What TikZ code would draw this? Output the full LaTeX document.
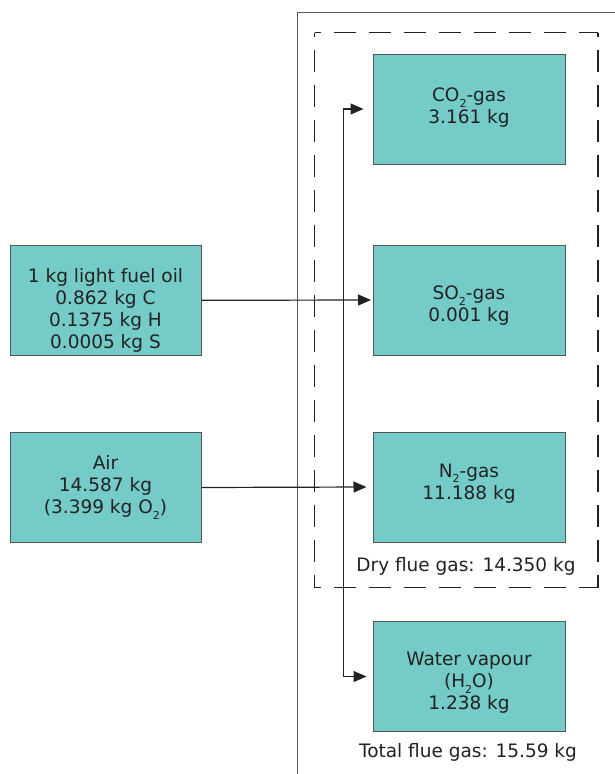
\documentclass[tikz,border=0pt]{standalone}
\usepackage{fontspec}
\setmainfont{DejaVu Sans}
\usetikzlibrary{arrows.meta}
\definecolor{boxfill}{HTML}{74CBC7}
\definecolor{boxline}{HTML}{555555}
\definecolor{txt}{HTML}{222222}
\newcommand{\chsub}[1]{\raisebox{-0.55ex}{\fontsize{11}{11}\selectfont #1}}
\begin{document}
\begin{tikzpicture}[x=1pt,y=-1pt,
  gasbox/.style={draw=boxline, line width=1pt, fill=boxfill,
    minimum width=192pt, minimum height=110pt, inner sep=0pt},
  boxtext/.style={text=txt, align=center, inner sep=0pt,
    font=\fontsize{18.5}{22}\selectfont},
  flow/.style={draw=txt, line width=1.2pt, -{Triangle[length=13pt,width=11pt]}},
  dashside/.style={txt, line width=1.1pt, dash pattern=on 22pt off 13pt},
  label/.style={text=txt, font=\fontsize{18.5}{22}\selectfont, inner sep=0pt}]
\useasboundingbox (0,0) rectangle (614,774);
% outer enclosure
\draw[boxline, line width=1.1pt] (297.5,780) -- (297.5,12.5) -- (620,12.5);
% dashed enclosure (dry flue gas)
\draw[dashside, dash phase=16pt] (314.5,32.5) -- (598,32.5);
\draw[dashside, dash phase=18pt] (314.5,32.5) -- (314.5,587.5);
\draw[dashside, dash phase=16pt] (314.5,587.5) -- (598,587.5);
\draw[dashside, dash phase=18pt] (598,32.5) -- (598,587.5);
% boxes
\node[gasbox] (co2) at (469,109) {};
\node[gasbox] (so2) at (469,300) {};
\node[gasbox] (n2) at (469,487) {};
\node[gasbox] (h2o) at (469,676.5) {};
\node[gasbox, minimum width=191pt] (fuel) at (105.5,300.3) {};
\node[gasbox, minimum width=191pt] (air) at (105.5,487.5) {};
% box texts
\node[boxtext] (co2t) at ([yshift=1.5pt]co2.center) {CO\chsub{2}-gas\\3.161 kg};
\node[boxtext] (so2t) at ([yshift=-6pt]so2.center) {SO\chsub{2}-gas\\0.001 kg};
\node[boxtext] (n2t) at ([yshift=3.5pt]n2.center) {N\chsub{2}-gas\\11.188 kg};
\node[boxtext] (h2ot) at ([yshift=-6.5pt]h2o.center) {Water vapour\\(H\chsub{2}O)\\1.238 kg};
\node[boxtext] (fuelt) at ([yshift=-10.5pt]fuel.center) {1 kg light fuel oil\\0.862 kg C\\0.1375 kg H\\0.0005 kg S};
\node[boxtext] (airt) at (air.center) {Air\\14.587 kg\\(3.399 kg O\chsub{2})};
% labels
\node[label] (dry) at (466,566.5) {Dry flue gas: 14.350 kg};
\node[label] (total) at (468,752) {Total flue gas: 15.59 kg};
% connectors
\coordinate (vtop) at (343.5,109);
\coordinate (vbot) at (343.5,676.5);
\draw[flow] (fuel.east) -- ([xshift=-1.5pt]so2.west);
\draw[flow] (air.east) -- ([xshift=-6pt]n2.west);
\draw[flow] (vbot) -- (vtop) -- ([xshift=-9pt]co2.west);
\draw[flow] (vtop) -- (vbot) -- ([xshift=-6pt]h2o.west);
\end{tikzpicture}
\end{document}
